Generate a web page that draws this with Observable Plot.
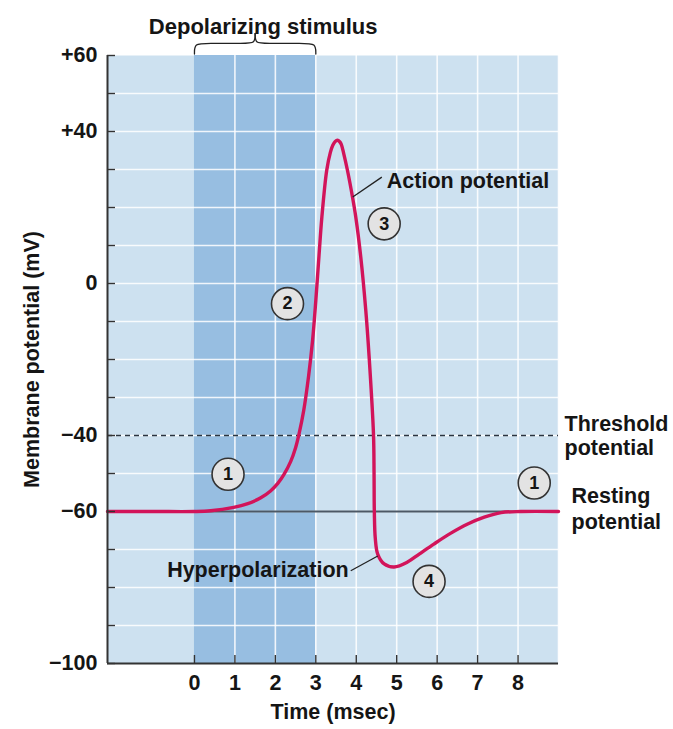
<!DOCTYPE html>
<html><head><meta charset="utf-8">
<script src="https://cdn.jsdelivr.net/npm/d3@7"></script>
<script src="https://cdn.jsdelivr.net/npm/@observablehq/plot@0.6"></script>
<style>body{margin:0;background:#fff}</style>
</head><body><div id="chart"></div>
<script>
// ---- data ----
const timeMs = [-2.15, -1, 0, 0.4, 0.97, 1.3, 1.64, 1.88, 2.06, 2.21, 2.38, 2.5, 2.583, 2.70, 2.82, 2.92, 3.0, 3.08, 3.15, 3.27, 3.36, 3.42, 3.48, 3.534, 3.59, 3.63, 3.69, 3.782, 3.906, 3.988, 4.111, 4.235, 4.317, 4.426, 4.44, 4.447, 4.47, 4.53, 4.69, 4.935, 5.267, 5.556, 5.928, 6.34, 6.755, 7.165, 7.58, 8.07, 9.0];
const potentialMv = [-60, -60, -60, -59.8, -58.9, -58.0, -56.4, -54.6, -52.6, -50.3, -46.8, -43.2, -39.7, -33.5, -24.5, -15, -4.5, 7.5, 17.5, 29.8, 34.5, 36.4, 37.4, 37.7, 37.3, 36.6, 34.2, 29.8, 22.8, 17.5, 7, -7, -19.1, -39.7, -50, -60, -67, -71.2, -73.8, -74.6, -73.3, -71.2, -68.5, -65.7, -63.3, -61.5, -60.3, -60, -60];

const xDomain = [-2.15, 9.0];
const yDomain = [-100, 60];
const xTicks = [0, 1, 2, 3, 4, 5, 6, 7, 8];
const yTickLabels = [60, 40, 0, -40, -60, -100];
const yTickMarks = [-100, -90, -80, -70, -60, -50, -40, -30, -20, -10, 0, 10, 20, 30, 40, 50, 60];
const gridTimes = [1, 2, 3, 4, 5, 6, 7, 8, 9];
const gridPotentials = [-90, -80, -70, -60, -50, -40, -30, -20, -10, 0, 10, 20, 30, 40, 50];
const stimulusStart = 0, stimulusEnd = 3;
const thresholdMv = -40, restingMv = -60;

const markerLabels = ["1", "2", "3", "1", "4"];
const markerTime = [0.83, 2.30, 4.69, 8.40, 5.80];
const markerMv = [-50.2, -5.3, 15.7, -52.5, -78.4];

const calloutText = ["Action potential", "Hyperpolarization"];
const calloutTime = [4.755, 3.814];
const calloutMv = [26.9, -75.3];
const calloutAnchor = ["start", "end"];
const leaderFromTime = [3.913, 3.864], leaderFromMv = [22.75, -75.6];
const leaderToTime = [4.632, 4.532], leaderToMv = [28.0, -71.7];

const titleText = "Depolarizing stimulus";
const xLabel = "Time (msec)";
const yLabel = "Membrane potential (mV)";
const thresholdLabel = "Threshold\npotential";
const restingLabel = "Resting\npotential";

// ---- derived tables ----
const trace = timeMs.map((t, i) => ({t, v: potentialMv[i]}));
const markers = markerLabels.map((l, i) => ({l, t: markerTime[i], v: markerMv[i]}));
const callouts = calloutText.map((s, i) => ({s, t: calloutTime[i], v: calloutMv[i], a: calloutAnchor[i]}));
const leaders = leaderFromTime.map((t, i) => ({x1: t, y1: leaderFromMv[i], x2: leaderToTime[i], y2: leaderToMv[i]}));
const stimMid = (stimulusStart + stimulusEnd) / 2;
const yTop = yDomain[1];
const brace = [
  [stimulusStart, yTop + 0.4, "L"], [stimulusStart, yTop + 3.2, "L"], [stimulusStart + 0.3, yTop + 3.2, "L"],
  [stimMid - 0.25, yTop + 3.2, "L"], [stimMid, yTop + 3.2, "L"], [stimMid, yTop + 5.8, "L"],
  [stimulusEnd, yTop + 0.4, "R"], [stimulusEnd, yTop + 3.2, "R"], [stimulusEnd - 0.3, yTop + 3.2, "R"],
  [stimMid + 0.25, yTop + 3.2, "R"], [stimMid, yTop + 3.2, "R"], [stimMid, yTop + 5.8, "R"]
].map(([t, v, z]) => ({t, v, z}));

const ink = "#151515";
const fmtY = d => d > 0 ? "+" + d : d < 0 ? "\u2212" + Math.abs(d) : "0";
const FS = 21.5;

const chart = Plot.plot({
  width: 673, height: 729,
  marginLeft: 107, marginRight: 115, marginTop: 55, marginBottom: 66,
  x: {domain: xDomain},
  y: {domain: yDomain},
  style: {fontFamily: "'Liberation Sans', Arial, Helvetica, sans-serif", fontWeight: "bold", fontSize: FS + "px", color: ink, background: "#fff", overflow: "visible"},
  marks: [
    Plot.frame({fill: "#cde1f0", stroke: null}),
    Plot.rectX([0], {x1: stimulusStart, x2: stimulusEnd, fill: "#97bee1"}),
    Plot.ruleX(gridTimes, {stroke: "#fff", strokeWidth: 1.6, strokeOpacity: 0.85}),
    Plot.ruleY(gridPotentials, {stroke: "#fff", strokeWidth: 1.6, strokeOpacity: 0.85}),
    Plot.ruleY([thresholdMv], {stroke: "#2a3440", strokeWidth: 1.4, strokeDasharray: "5,4"}),
    Plot.ruleY([restingMv], {stroke: "#4c5865", strokeWidth: 2.2}),
    Plot.line(trace, {x: "t", y: "v", stroke: "#d2145a", strokeWidth: 3.4, curve: "catmull-rom"}),
    Plot.link(leaders, {x1: "x1", y1: "y1", x2: "x2", y2: "y2", stroke: "#222", strokeWidth: 1.3}),
    Plot.dot(markers, {x: "t", y: "v", r: 16, fill: "#e3e3e3", stroke: "#333", strokeWidth: 1.6}),
    Plot.text(markers, {x: "t", y: "v", text: "l", fontSize: 18, fill: ink}),
    Plot.text(callouts, {x: "t", y: "v", text: "s", textAnchor: "start", filter: d => d.a === "start", fill: ink}),
    Plot.text(callouts, {x: "t", y: "v", text: "s", textAnchor: "end", filter: d => d.a === "end", fill: ink}),
    Plot.text([thresholdLabel], {x: xDomain[1], y: thresholdMv, text: d => d, dx: 6, textAnchor: "start", lineHeight: 1.12, fill: ink}),
    Plot.text([restingLabel], {x: xDomain[1], y: restingMv, text: d => d, dx: 13, dy: -4, textAnchor: "start", lineHeight: 1.2, fill: ink}),
    Plot.line(brace, {x: "t", y: "v", z: "z", stroke: "#222", strokeWidth: 1.3, curve: "basis"}),
    Plot.text([titleText], {x: stimMid, frameAnchor: "top", dx: 8, dy: -37, text: d => d, fontSize: 22, fill: ink}),
    Plot.text([xLabel], {frameAnchor: "bottom", dy: 55, text: d => d, fill: ink}),
    Plot.text([yLabel], {frameAnchor: "left", textAnchor: "middle", dx: -75, rotate: -90, text: d => d, fill: ink}),
    Plot.ruleX([xDomain[0]], {stroke: "#333", strokeWidth: 2}),
    Plot.ruleY([yDomain[0]], {stroke: "#333", strokeWidth: 2}),
    Plot.axisX({ticks: xTicks, tickSize: 0, tickPadding: 11, tickFormat: d => String(d), label: null, fontSize: FS}),
    Plot.axisX({ticks: xTicks, tickSize: -8, tickFormat: () => "", label: null, stroke: "#333", strokeWidth: 1.4}),
    Plot.axisY({ticks: yTickLabels, tickSize: 0, tickPadding: 10, tickFormat: fmtY, label: null, fontSize: FS}),
    Plot.axisY({ticks: yTickMarks, tickSize: -8, tickFormat: () => "", label: null, stroke: "#333", strokeWidth: 1.4})
  ]
});
document.getElementById("chart").appendChild(chart);
</script>
</body></html>
